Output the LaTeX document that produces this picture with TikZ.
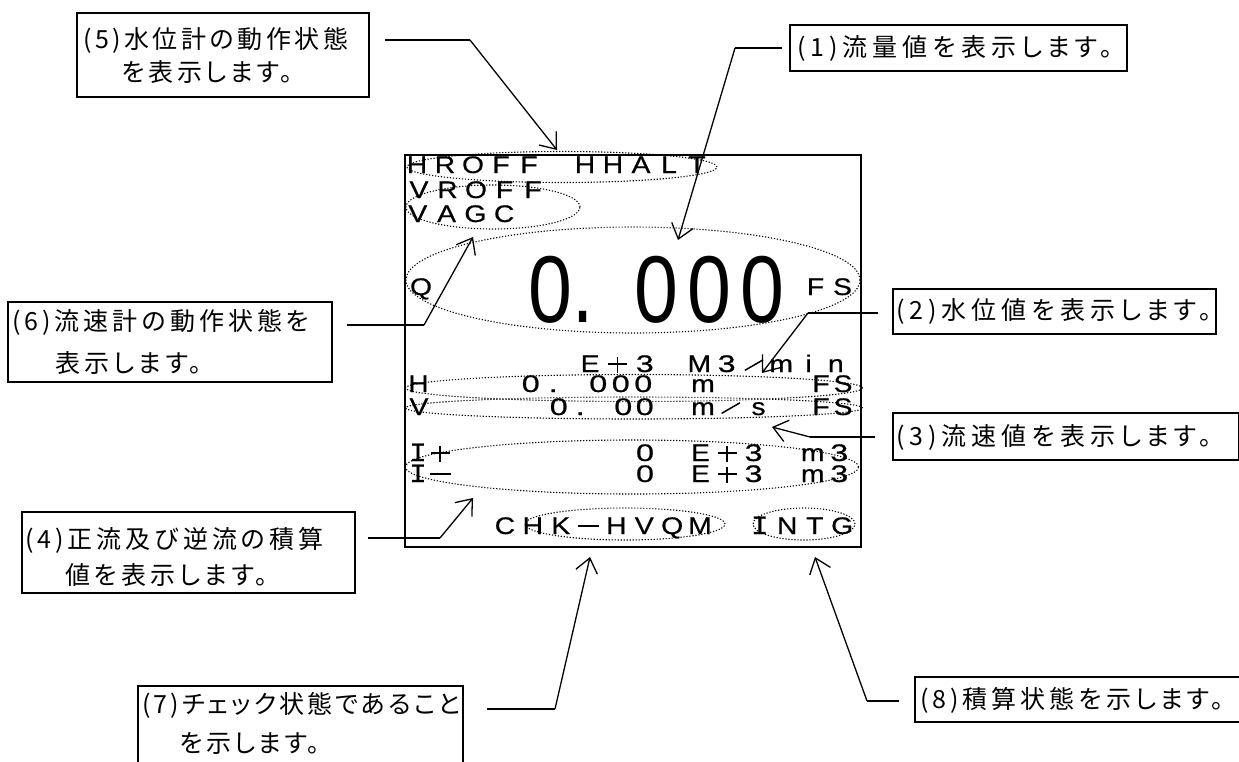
\documentclass[tikz,border=0pt]{standalone}
\usepackage{fontspec}
\usepackage{graphicx}
\setmainfont{Liberation Sans}
\newfontfamily\dsp[FakeBold=0.5]{Liberation Sans}
\newfontfamily\dspbig{Liberation Sans}
\newfontfamily\dspm[FakeBold=0.5]{DejaVu Sans Mono}
\newfontfamily\jpa[LetterSpace=20,RawFeature=+palt]{Noto Sans CJK JP}
\newfontfamily\jpb[LetterSpace=16,RawFeature=+palt]{Noto Sans CJK JP}
\newfontfamily\jpc[LetterSpace=12,RawFeature=+palt]{Noto Sans CJK JP}
\newfontfamily\jpd[LetterSpace=14,RawFeature=+palt]{Noto Sans CJK JP}
\usetikzlibrary{arrows.meta,shapes.geometric}
\makeatletter
\newcommand\cells[2]{\def\cell@w{#1}\cell@i#2\relax}
\def\cell@i#1{\ifx#1\relax\else\cell@b#1\expandafter\cell@i\fi}
\def\cell@b#1{\makebox[\cell@w pt][c]{\cell@g#1}}
\def\cell@g#1{%
 \ifx#1_\else
 \ifx#1/\raisebox{1pt}{\rotatebox{30}{\rule{21pt}{1.5pt}}}\else
 \ifx#1+\makebox[19pt][l]{\rule[7pt]{19pt}{1.8pt}\hspace*{-10.4pt}\rule[-0.5pt]{1.8pt}{16pt}}\else
 \ifx#1−\rule[7pt]{21pt}{1.8pt}\else
 \ifx#1Ｉ{\dspm\scalebox{1.2}[1]{I}}\else
 \ifnum`#1<58 \scalebox{1.35}[1]{#1}\else
 \scalebox{1.18}[1]{#1}\fi\fi\fi\fi\fi\fi}
\makeatother
\begin{document}
\begin{tikzpicture}[x=1pt,y=-1pt,
  conn/.style={line width=1.3pt,-{Straight Barb[length=14pt,width=22pt,line width=1.3pt]}},
  plain/.style={line width=1.3pt},
  box/.style={draw,line width=1.2pt,inner sep=0,rectangle},
  jt/.style={inner sep=0,anchor=west,font=#1\fontsize{25pt}{25pt}\selectfont},
  ell/.style={ellipse,draw,dash pattern=on 1.2pt off 1.8pt,line width=1.1pt,inner sep=0},
  disp/.style={inner sep=0,anchor=base,font=\dsp\fontsize{24pt}{24pt}\selectfont}]
\useasboundingbox (0,0) rectangle (1239,761);
\clip (0,0) rectangle (1239,761);
\fill[white] (0,0) rectangle (1239,761);

% display frame
\node[draw,line width=2pt,inner sep=0,minimum width=456pt,minimum height=392pt] (frame) at (633,351) {};

% dotted ellipses
\node[ell,minimum width=310pt,minimum height=31pt] (e5) at (562,167) {};
\node[ell,minimum width=174pt,minimum height=44pt] (e6) at (493,207) {};
\node[ell,minimum width=454pt,minimum height=106pt] (e1) at (633,280) {};
\node[ell,minimum width=457pt,minimum height=27pt] (e2) at (634,388) {};
\node[ell,minimum width=457pt,minimum height=22pt] (e3) at (634,408) {};
\node[ell,minimum width=453pt,minimum height=54pt] (e4) at (632,467) {};
\node[ell,minimum width=200pt,minimum height=32pt] (e7) at (625,524) {};
\node[ell,minimum width=102pt,minimum height=32pt] (e8) at (804,524) {};

% display texts
\node[disp] (r1) at (557,173) {\cells{28}{HROFF_HHALT}};
\node[disp] (r2) at (476,198) {\cells{28.5}{VROFF}};
\node[disp] (r3) at (461,222) {\cells{28.8}{VAGC}};
\node[disp] (q) at (421,295) {\cells{24}{Q}};
\node[disp] (fs1) at (829,295) {\cells{27}{FS}};
\node[inner sep=0,anchor=base west,font=\dspbig\fontsize{95pt}{95pt}\selectfont] (big) at (523.5,322)
 {\makebox[53pt][c]{\scalebox{0.83}[1]{0}}\makebox[53pt][l]{\hspace*{-4pt}\scalebox{0.8}[1.1]{.}}\makebox[53pt][c]{\scalebox{0.83}[1]{0}}\makebox[53pt][c]{\scalebox{0.83}[1]{0}}\makebox[53pt][c]{\scalebox{0.83}[1]{0}}};
\node[disp] (unit) at (713,372) {\cells{27.3}{E+3_M3/min}};
\node[disp] (hl) at (418.5,392) {\cells{24}{H}};
\node[disp] (hv) at (587,392) {\cells{22.5}{0._000}};
\node[disp] (hm) at (703,392) {\cells{24}{m}};
\node[disp] (hfs) at (832,392) {\cells{22}{FS}};
\node[disp] (vl) at (419,415) {\cells{24}{V}};
\node[disp] (vv) at (601.75,415) {\cells{21.5}{0._00}};
\node[disp] (vu) at (730.75,415) {\cells{27.75}{m/s}};
\node[disp] (vfs) at (832,415) {\cells{22}{FS}};
\node[disp] (ipl) at (429,461) {\cells{22}{Ｉ+}};
\node[disp] (ipv) at (645,461) {\cells{24}{0}};
\node[disp] (ipe) at (727,461) {\cells{26.5}{E+3}};
\node[disp] (ipu) at (826,461) {\cells{26.5}{m3}};
\node[disp] (iml) at (429,482) {\cells{22}{Ｉ−}};
\node[disp] (imv) at (645,482) {\cells{24}{0}};
\node[disp] (ime) at (727,482) {\cells{26.5}{E+3}};
\node[disp] (imu) at (826,482) {\cells{26.5}{m3}};
\node[disp] (chk) at (602.5,534) {\cells{27.86}{CHK−HVQM}};
\node[disp] (intg) at (801,534) {\cells{27.5}{ＩNTG}};

% callout boxes
\node[box,minimum width=292pt,minimum height=84pt] (b5) at (223,55) {};
\node[jt=\jpd] (t5a) at (83,40) {(5)水位計の動作状態};
\node[jt=\jpd] (t5b) at (122,72) {を表示します。};
\node[box,minimum width=337pt,minimum height=46pt] (b1) at (958.5,48) {};
\node[jt=\jpa] (t1) at (797,48) {(1)流量値を表示します。};
\node[box,minimum width=324pt,minimum height=80pt] (b6) at (170,342) {};
\node[jt=\jpb] (t6a) at (12,322) {(6)流速計の動作状態を};
\node[jt=\jpb] (t6b) at (55,363) {表示します。};
\node[box,minimum width=323pt,minimum height=45pt] (b2) at (1054.5,311.5) {};
\node[jt=\jpa] (t2) at (896,311) {(2)水位値を表示します。};
\node[box,minimum width=345.5pt,minimum height=47pt] (b3) at (1065.75,436.5) {};
\node[jt=\jpa] (t3) at (896,437) {(3)流速値を表示します。};
\node[box,minimum width=333pt,minimum height=81pt] (b4) at (188.5,552.5) {};
\node[jt=\jpb] (t4a) at (25,540) {(4)正流及び逆流の積算};
\node[jt=\jpb] (t4b) at (65,575) {値を表示します。};
\node[box,minimum width=325pt,minimum height=114pt] (b7) at (300.5,743) {};
\node[jt=\jpc] (t7a) at (142,705) {(7)チェック状態であること};
\node[jt=\jpc] (t7b) at (180,743) {を示します。};
\node[box,minimum width=325pt,minimum height=45pt] (b8) at (1077.5,699.5) {};
\node[jt=\jpb] (t8) at (920,700) {(8)積算状態を示します。};

% connector points
\coordinate (s5) at (385,40);  \coordinate (k5) at (470,40);  \coordinate (p5) at (557,150);
\coordinate (s1) at (782,48);  \coordinate (k1) at (735,48);  \coordinate (p1) at (678,240);
\coordinate (s6) at (347,325); \coordinate (k6) at (424,325); \coordinate (p6) at (473,237);
\coordinate (s2) at (878,313); \coordinate (k2) at (808,313); \coordinate (p2) at (762,373);
\coordinate (s3) at (875,437); \coordinate (k3) at (810,437); \coordinate (p3) at (772,427);
\coordinate (s4) at (368,538); \coordinate (k4) at (440,538); \coordinate (p4) at (473,498);
\coordinate (s7) at (487,709); \coordinate (k7) at (555,709); \coordinate (p7) at (590,557);
\coordinate (s8) at (899,701); \coordinate (k8) at (867,701); \coordinate (p8) at (815,557);

\foreach \i in {5,1,6,2,3,4,7,8}{
  \draw[plain] (s\i) -- (k\i);
  \draw[conn] (k\i) -- (p\i);
}
\end{tikzpicture}
\end{document}
